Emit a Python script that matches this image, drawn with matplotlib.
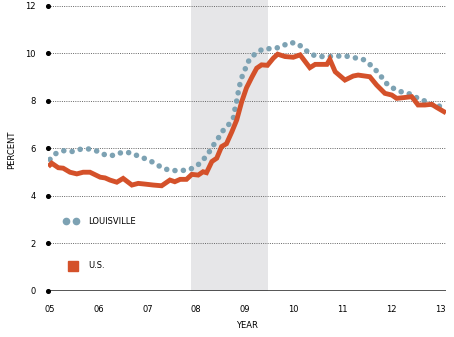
import matplotlib
matplotlib.use("Agg")
import matplotlib.pyplot as plt

# US unemployment rate, x in decimal years
us_year = [2005.0, 2005.035, 2005.17, 2005.27, 2005.41, 2005.55, 2005.68, 2005.82,
           2006.03, 2006.13, 2006.23, 2006.37, 2006.50, 2006.68, 2006.81, 2006.95,
           2007.12, 2007.29, 2007.46, 2007.56, 2007.67, 2007.80, 2007.91, 2008.04,
           2008.14, 2008.21, 2008.32, 2008.42, 2008.52, 2008.62, 2008.73, 2008.83,
           2008.93, 2009.03, 2009.14, 2009.24, 2009.34, 2009.46, 2009.58, 2009.67,
           2009.82, 2009.99, 2010.13, 2010.33, 2010.44, 2010.68, 2010.74, 2010.85,
           2011.05, 2011.22, 2011.32, 2011.56, 2011.70, 2011.87, 2012.01, 2012.11,
           2012.25, 2012.42, 2012.55, 2012.69, 2012.83, 2012.93, 2013.08]
us_rate = [5.31, 5.38, 5.19, 5.17, 5.0, 4.93, 5.0, 5.0,
           4.79, 4.76, 4.67, 4.58, 4.74, 4.46, 4.53, 4.5,
           4.46, 4.43, 4.67, 4.6, 4.7, 4.7, 4.91, 4.88,
           5.02, 4.98, 5.45, 5.59, 6.08, 6.2, 6.7, 7.2,
           7.95, 8.55, 9.0, 9.38, 9.52, 9.5, 9.8, 9.97,
           9.87, 9.84, 9.94, 9.4, 9.54, 9.54, 9.75, 9.23,
           8.88, 9.05, 9.09, 9.02, 8.67, 8.32, 8.25, 8.11,
           8.14, 8.18, 7.83, 7.83, 7.86, 7.73, 7.55]

# Louisville unemployment rate
lou_year = [2005.0, 2005.10, 2005.29, 2005.47, 2005.63, 2005.81, 2005.98, 2006.15,
            2006.31, 2006.48, 2006.66, 2006.83, 2006.98, 2007.15, 2007.31, 2007.48,
            2007.67, 2007.84, 2008.01, 2008.13, 2008.25, 2008.34, 2008.45, 2008.54,
            2008.66, 2008.76, 2008.79, 2008.83, 2008.86, 2008.90, 2008.95, 2009.02,
            2009.09, 2009.23, 2009.38, 2009.57, 2009.74, 2009.90, 2010.07, 2010.22,
            2010.35, 2010.52, 2010.71, 2010.88, 2011.07, 2011.24, 2011.41, 2011.56,
            2011.70, 2011.82, 2011.93, 2012.08, 2012.25, 2012.42, 2012.57, 2012.74,
            2012.90, 2013.06]
lou_rate = [5.54, 5.77, 5.91, 5.87, 5.97, 5.98, 5.88, 5.71,
            5.71, 5.84, 5.82, 5.66, 5.55, 5.38, 5.17, 5.07,
            5.07, 5.09, 5.26, 5.49, 5.8, 6.1, 6.43, 6.73,
            6.99, 7.27, 7.62, 8.01, 8.35, 8.75, 9.09, 9.42,
            9.75, 10.03, 10.2, 10.2, 10.27, 10.46, 10.43, 10.18,
            9.96, 9.87, 9.87, 9.89, 9.89, 9.82, 9.77, 9.54,
            9.26, 8.96, 8.67, 8.49, 8.35, 8.28, 8.07, 7.97,
            7.76, 7.8]

recession = (2007.89, 2009.47)
x_ticks = [2005, 2006, 2007, 2008, 2009, 2010, 2011, 2012, 2013]
x_labels = ["05", "06", "07", "08", "09", "10", "11", "12", "13"]
y_ticks = [0, 2, 4, 6, 8, 10, 12]

us_color = "#d4512a"
lou_color = "#7da2b3"

W, H = 454, 337
fig = plt.figure(figsize=(W / 100, H / 100), dpi=100)
ax = fig.add_axes([48 / W, (H - 291) / H, (446 - 48) / W, 291 / H])
ax.set_xlim(2005 + (48 - 50) / 48.75, 2005 + (446 - 50) / 48.75)
ax.set_ylim(0, 12.25)

ax.axvspan(recession[0], recession[1], color="#e6e6e8", lw=0, zorder=0)

# gridlines
for y in y_ticks[1:]:
    ax.axhline(y, color="#666666", lw=0.7, ls=(0, (1, 1.3)), zorder=1)
ax.axhline(0, color="#222222", lw=1.8, zorder=1)
ax.scatter([ax.get_xlim()[0]] * len(y_ticks), y_ticks, s=7, color="black",
           zorder=5, clip_on=False)

ax.plot(lou_year, lou_rate, color=lou_color, lw=4.0, ls=(0, (0.01, 1.5)),
        dash_capstyle="round", zorder=3)
ax.plot(us_year, us_rate, color=us_color, lw=3.5, solid_joinstyle="miter", zorder=4)

for s in ax.spines.values():
    s.set_visible(False)
ax.set_xticks(x_ticks)
ax.set_xticklabels(x_labels, fontsize=6)
ax.set_yticks(y_ticks)
ax.set_yticklabels([str(v) for v in y_ticks], fontsize=6)
ax.tick_params(length=0, pad=9)
ax.tick_params(axis="x", pad=10)

fig.text(12 / W, 1 - 150 / H, "PERCENT", rotation=90, fontsize=6,
         ha="center", va="center")
fig.text(247 / W, 1 - 325 / H, "YEAR", fontsize=6, ha="center", va="center")

# legend
fig.lines.append(plt.Line2D([66 / W, 76 / W], [1 - 221 / H] * 2, transform=fig.transFigure,
                            color=lou_color, lw=0, marker="o", ms=4.5))
fig.text(88 / W, 1 - 221 / H, "LOUISVILLE", fontsize=6, va="center")
fig.patches.append(plt.Rectangle((68 / W, 1 - 271 / H), 10 / W, 10 / H,
                                 transform=fig.transFigure, color=us_color))
fig.text(88 / W, 1 - 266 / H, "U.S.", fontsize=6, va="center")

fig.savefig("out.png", dpi=100)
